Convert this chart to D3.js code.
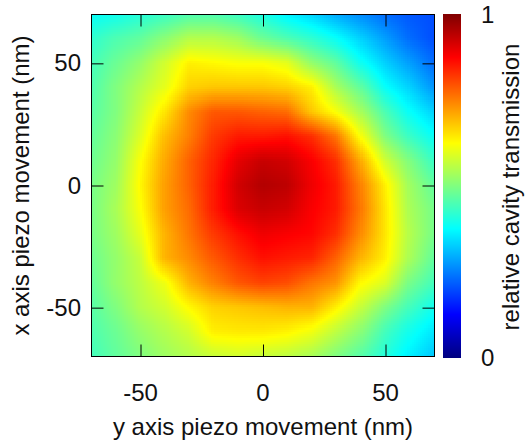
<!DOCTYPE html>
<meta charset="utf-8">
<style>
body{margin:0;background:#fff;}
text{font-family:"Liberation Sans",sans-serif;font-size:24px;fill:#111;}
.cells rect{shape-rendering:crispEdges;}
.domain,.tick line{stroke:#000;stroke-width:1px;}
.frame{fill:none;stroke:#000;stroke-width:1px;}
</style>
<body>
<div id="chart"></div>
<script src="https://d3js.org/d3.v7.min.js"></script>
<script>
// measured transmission, rows top to bottom (x piezo), columns left to right (y piezo)
var yPiezo = [-70,-60,-50,-40,-30,-20,-10,0,10,20,30,40,50,60,70];
var xPiezo = [70,60,50,40,30,20,10,0,-10,-20,-30,-40,-50,-60,-70];
var row70  = [.38,.39,.41,.43,.45,.45,.43,.40,.36,.33,.29,.26,.23,.21,.20];
var row60  = [.42,.45,.47,.51,.55,.55,.53,.48,.45,.42,.38,.33,.28,.23,.20];
var row50  = [.44,.48,.52,.58,.64,.63,.62,.62,.60,.52,.47,.39,.33,.28,.23];
var row40  = [.45,.50,.55,.60,.67,.68,.68,.68,.67,.64,.54,.47,.38,.33,.27];
var row30  = [.46,.50,.57,.65,.74,.79,.79,.78,.77,.68,.62,.54,.45,.38,.33];
var row20  = [.47,.51,.59,.69,.75,.82,.85,.85,.86,.83,.76,.62,.50,.43,.38];
var row10  = [.48,.52,.62,.71,.78,.84,.90,.93,.92,.88,.83,.71,.58,.50,.43];
var row0   = [.49,.53,.63,.72,.78,.85,.92,.95,.94,.89,.85,.75,.64,.53,.47];
var rowM10 = [.49,.54,.62,.72,.77,.85,.91,.93,.92,.88,.85,.76,.65,.54,.49];
var rowM20 = [.49,.53,.60,.70,.76,.82,.86,.89,.88,.87,.83,.74,.65,.55,.49];
var rowM30 = [.48,.52,.57,.70,.74,.79,.83,.86,.85,.84,.78,.70,.64,.54,.47];
var rowM40 = [.47,.52,.56,.61,.70,.75,.79,.81,.80,.76,.73,.63,.59,.49,.44];
var rowM50 = [.46,.50,.55,.58,.63,.67,.68,.69,.70,.70,.64,.57,.50,.44,.39];
var rowM60 = [.45,.48,.52,.55,.58,.64,.645,.645,.635,.61,.56,.51,.44,.39,.35];
var rowM70 = [.44,.47,.50,.53,.55,.57,.58,.57,.56,.54,.50,.46,.41,.36,.32];
var rows = [row70,row60,row50,row40,row30,row20,row10,row0,rowM10,rowM20,rowM30,rowM40,rowM50,rowM60,rowM70];
var axisTicks = [-50,0,50];
var jetStops = [0,.125,.375,.625,.875,1];
var jetColors = ["#000080","#0000ff","#00ffff","#ffff00","#ff0000","#800000"];

var svg = d3.select("#chart").append("svg").attr("width",528).attr("height",445).style("display","block");

var x = d3.scaleLinear().domain([-70,70]).range([91.5,434.5]);
var y = d3.scaleLinear().domain([-70,70]).range([356.5,14.5]);
var color = d3.scaleLinear().domain(jetStops).range(jetColors).clamp(true);

// pm3d style smoothing: each 10 nm cell is split up and filled bilinearly
var sub = 12;
var cells = svg.append("g").attr("class","cells");
for(var r=0;r<rows.length-1;r++){
    for(var c=0;c<yPiezo.length-1;c++){
        for(var i=0;i<sub;i++){
            for(var j=0;j<sub;j++){
                var u=(i+.5)/sub, v=(j+.5)/sub;
                var val=(1-u)*(1-v)*rows[r][c]+u*(1-v)*rows[r][c+1]+(1-u)*v*rows[r+1][c]+u*v*rows[r+1][c+1];
                var x0=x(yPiezo[c]+i*10/sub), x1=x(yPiezo[c]+(i+1)*10/sub);
                var y0=y(xPiezo[r]-j*10/sub), y1=y(xPiezo[r]-(j+1)*10/sub);
                cells.append("rect")
                    .attr("x",Math.floor(x0)).attr("y",Math.floor(y0))
                    .attr("width",Math.ceil(x1)-Math.floor(x0)).attr("height",Math.ceil(y1)-Math.floor(y0))
                    .attr("fill",color(val));
            }
        }
    }
}

// colour bar
var barY = d3.scaleLinear().domain([0,1]).range([357,14.5]);
var barVals = d3.range(0,343).map(function(d){return d/343;});
svg.append("g").attr("class","cells").selectAll("rect").data(barVals).enter().append("rect")
    .attr("x",443).attr("width",18)
    .attr("y",function(d){return Math.floor(barY(d))-1;})
    .attr("height",2)
    .attr("fill",function(d){return color(d);});

// axes, ticks go inwards on all four sides
var tl = 12;
svg.append("g").attr("transform","translate(0,356.5)").call(d3.axisBottom(x).tickValues(axisTicks).tickSize(-tl).tickFormat(""));
svg.append("g").attr("transform","translate(0,14.5)").call(d3.axisTop(x).tickValues(axisTicks).tickSize(-tl).tickFormat(""));
svg.append("g").attr("transform","translate(91.5,0)").call(d3.axisLeft(y).tickValues(axisTicks).tickSize(-tl).tickFormat(""));
svg.append("g").attr("transform","translate(434.5,0)").call(d3.axisRight(y).tickValues(axisTicks).tickSize(-tl).tickFormat(""));
svg.selectAll(".domain").remove();
svg.append("rect").attr("class","frame").attr("x",91.5).attr("y",14.5).attr("width",343).attr("height",342);

svg.selectAll(".xl").data(axisTicks).enter().append("text").attr("class","xl")
    .attr("x",function(d){return x(d);}).attr("y",401).attr("text-anchor","middle").text(function(d){return d;});
svg.selectAll(".yl").data(axisTicks).enter().append("text").attr("class","yl")
    .attr("x",81).attr("y",function(d){return y(d)+8;}).attr("text-anchor","end").text(function(d){return d;});

svg.append("text").attr("x",263).attr("y",435).attr("text-anchor","middle").text("y axis piezo movement (nm)");
svg.append("text").attr("transform","translate(29,185.5) rotate(-90)").attr("text-anchor","middle").text("x axis piezo movement (nm)");
svg.append("text").attr("transform","translate(519,187) rotate(-90)").attr("text-anchor","middle").text("relative cavity transmission");
svg.append("text").attr("x",481).attr("y",23).text("1");
svg.append("text").attr("x",481).attr("y",366).text("0");
</script>
</body>
</html>
